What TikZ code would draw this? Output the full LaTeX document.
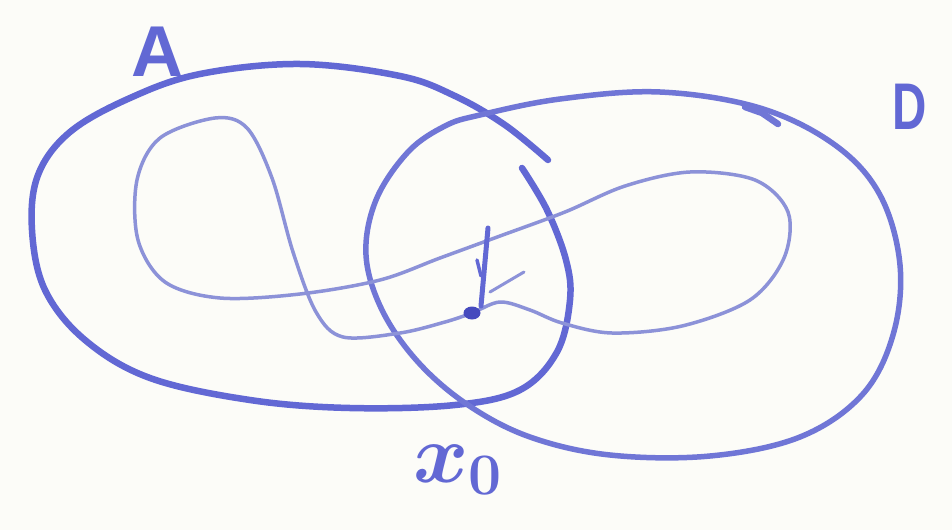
\RequirePackage{fix-cm}
\documentclass[tikz,border=0pt]{standalone}
\usepackage{fontspec}
\setmainfont{Liberation Sans}
\usetikzlibrary{shapes.geometric}
\definecolor{inkblue}{RGB}{98,104,212}
\definecolor{inkmid}{RGB}{112,118,214}
\definecolor{inklight}{RGB}{140,146,216}
\definecolor{inkdark}{RGB}{70,74,190}
\definecolor{paper}{RGB}{252,252,248}
\begin{document}
\begin{tikzpicture}[x=1pt,y=-1pt,
  inkA/.style={draw=inkblue, line width=6.5pt, line cap=round, line join=round},
  inkD/.style={draw=inkmid, line width=5.5pt, line cap=round, line join=round},
  inkthin/.style={draw=inklight, line width=3.5pt, line cap=round, line join=round},
  lbl/.style={text=inkblue, inner sep=0pt}]
\fill[paper] (0,0) rectangle (952,530);
\useasboundingbox (0,0) rectangle (952,530);
% curve A (with the small pen gap near the top right)
\draw[inkA] plot[smooth, tension=0.6] coordinates {(522,168) (547,210) (566,260) (570,300) (557,352) (520,390) (455,405) (350,408) (250,400) (150,378) (85,340) (45,290) (32,230) (38,175) (70,132) (130,98) (200,74) (300,64) (400,76) (455,96) (505,125) (548,160)};
% curve D
\draw[inkD] plot[smooth cycle, tension=0.6] coordinates {(480,115) (560,99) (660,92) (760,108) (835,145) (880,195) (900,265) (893,335) (862,395) (800,437) (710,456) (610,455) (530,437) (468,405) (418,362) (382,310) (366,255) (376,200) (408,152) (445,126)};
\draw[inkD, line width=6.5pt] (745,107) -- (762,113) -- (778,124);
% inner curve
\draw[inkthin] plot[smooth cycle, tension=0.55] coordinates {(472,313) (500,302) (530,310) (562,323) (612,333) (682,326) (750,300) (784,258) (788,212) (755,180) (690,172) (625,186) (565,212) (500,236) (440,258) (380,280) (300,294) (220,298) (165,282) (138,240) (137,180) (160,138) (215,118) (247,128) (272,178) (293,252) (316,312) (343,337) (400,333) (445,322)};
% point and marks
\node[fill=inkdark, ellipse, minimum width=17pt, minimum height=13pt, inner sep=0pt] (p) at (472,313) {};
\coordinate (bot) at (481,306);
\coordinate (top) at (488,228);
\coordinate (t1) at (477,260);
\coordinate (t2) at (481,276);
\coordinate (b1) at (490,292);
\coordinate (b2) at (524,272);
\draw[draw=inkblue, line width=5pt, line cap=round] (bot) -- (top);
\draw[draw=inkblue, line width=3.5pt, line cap=round] (t1) -- (t2);
\draw[draw=inklight, line width=3pt, line cap=round] (b1) -- (b2);
% labels
\node[lbl, font=\fontsize{72}{72}\selectfont\bfseries] (A) at (157,52) {A};
\node[lbl, font=\fontsize{66}{66}\selectfont\bfseries, xscale=0.72] (D) at (910,107) {D};
\node[lbl, font=\fontsize{84}{84}\selectfont\boldmath] (x0) at (458,470) {$x_0$};
\end{tikzpicture}
\end{document}
